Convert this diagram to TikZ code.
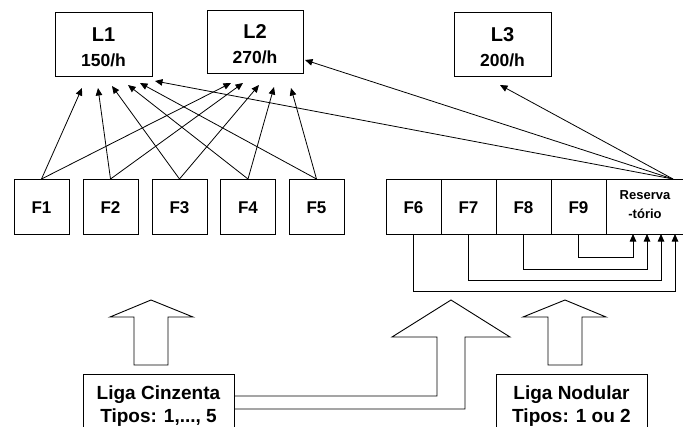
\documentclass[tikz,border=0pt]{standalone}
\usepackage{fontspec}
\setmainfont{Liberation Sans}
\usetikzlibrary{arrows.meta}
\begin{document}
\begin{tikzpicture}[x=1pt,y=-1pt,
  box/.style={draw, line width=0.9pt, inner sep=0pt, outer sep=0pt, fill=white},
  big/.style={font=\bfseries\fontsize{20}{20}\selectfont, anchor=base, inner sep=0pt},
  rate/.style={font=\bfseries\fontsize{17.5}{17.5}\selectfont, anchor=base, inner sep=0pt},
  flab/.style={font=\bfseries\fontsize{17}{17}\selectfont, anchor=base, inner sep=0pt},
  res/.style={font=\bfseries\fontsize{13}{13}\selectfont, anchor=base, inner sep=0pt},
  liga/.style={font=\bfseries\fontsize{19}{19}\selectfont, anchor=base, inner sep=0pt},
  conn/.style={line width=0.8pt, -{Triangle[length=7.5pt,width=6.5pt]}},
  blockarrow/.style={draw, line width=0.9pt, fill=white, line join=miter}
]
\useasboundingbox (0,0) rectangle (683,426);
% L boxes
\node[box, minimum width=97pt, minimum height=64pt] (L1) at (103.5,44) {};
\node[big] (L1t) at (103.5,41) {L1};
\node[rate] (L1r) at (103.5,66) {150/h};
\node[box, minimum width=96pt, minimum height=63pt] (L2) at (255,41.5) {};
\node[big] (L2t) at (255,38) {L2};
\node[rate] (L2r) at (255,63) {270/h};
\node[box, minimum width=97pt, minimum height=64pt] (L3) at (502.5,44) {};
\node[big] (L3t) at (502.5,41) {L3};
\node[rate] (L3r) at (502.5,66) {200/h};
% F boxes
\foreach \i/\x in {1/41.5,2/110.5,3/179.5,4/248,5/316.5}{
  \node[box, minimum width=55pt, minimum height=55pt] (F\i) at (\x,206.5) {};
  \node[flab] (F\i t) at (\x,213) {F\i};
}
\foreach \i/\x in {6/413.5,7/468.5,8/523.5,9/578.5}{
  \node[box, minimum width=55pt, minimum height=55pt] (F\i) at (\x,206.5) {};
  \node[flab] (F\i t) at (\x,213) {F\i};
}
\node[box, minimum width=79pt, minimum height=55pt] (R) at (645.5,206.5) {};
\node[res] (Rt1) at (645,199) {Reserva};
\node[res] (Rt2) at (645,218) {-tório};
% arrow tips
\coordinate (a1) at (82,88);
\coordinate (a2) at (98,88);
\coordinate (a3) at (112,86);
\coordinate (a4) at (128,85);
\coordinate (a5) at (140,83);
\coordinate (a6) at (155,81);
\coordinate (b1) at (231,83);
\coordinate (b2) at (243,83);
\coordinate (b3) at (259,85);
\coordinate (b4) at (274,87);
\coordinate (b5) at (291,88);
\coordinate (b6) at (305,60);
\coordinate (c1) at (500,85);
\coordinate (Rtop) at (673,179);
\draw[conn] (F1.north) -- (a1);
\draw[conn] (F2.north) -- (a2);
\draw[conn] (F3.north) -- (a3);
\draw[conn] (F4.north) -- (a4);
\draw[conn] (F5.north) -- (a5);
\draw[conn] (F1.north) -- (b1);
\draw[conn] (F2.north) -- (b2);
\draw[conn] (F3.north) -- (b3);
\draw[conn] (F4.north) -- (b4);
\draw[conn] (F5.north) -- (b5);
\draw[conn] (Rtop) -- (a6);
\draw[conn] (Rtop) -- (b6);
\draw[conn] (Rtop) -- (c1);
% recycle lines
\draw[conn] (F9.south) |- (633,257) -- (633,234);
\draw[conn] (F8.south) |- (647,269) -- (647,234);
\draw[conn] (F7.south) |- (661,280) -- (661,234);
\draw[conn] (F6.south) |- (675,291) -- (675,234);
% Liga boxes
\node[box, minimum width=151pt, minimum height=62pt] (LC) at (158.5,405) {};
\node[liga] (LCt1) at (158.5,399) {Liga Cinzenta};
\node[liga] (LCt2) at (158.5,422) {Tipos: 1,..., 5};
\node[box, minimum width=151pt, minimum height=62pt] (LN) at (571.5,405) {};
\node[liga] (LNt1) at (571.5,399) {Liga Nodular};
\node[liga] (LNt2) at (571.5,422) {Tipos: 1 ou 2};
% block arrows
\draw[blockarrow] (134,365) -- (134,317) -- (110,317) -- (151,300) -- (193,317) -- (168,317) -- (168,365) -- cycle;
\draw[blockarrow] (548,365) -- (548,317) -- (523,317) -- (565,300) -- (606,317) -- (582,317) -- (582,365) -- cycle;
\draw[line width=0.9pt, line join=miter] (LC.east |- 0,396) -- (437,396) -- (437,337) -- (392,337) -- (451,300) -- (510,337) -- (465,337) -- (465,409) -- (LC.east |- 0,409);
\end{tikzpicture}
\end{document}
